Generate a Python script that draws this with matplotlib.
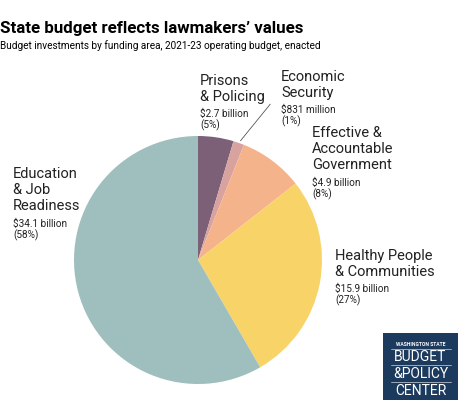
import matplotlib
matplotlib.use("Agg")
import matplotlib.pyplot as plt
import numpy as np

# data
areas = ["Prisons\n& Policing", "Economic\nSecurity", "Effective &\nAccountable\nGovernment",
         "Healthy People\n& Communities", "Education\n& Job\nReadiness"]
amounts = [2.7, 0.831, 4.9, 15.9, 34.1]  # billions
amount_labels = ["$2.7 billion", "$831 million", "$4.9 billion", "$15.9 billion", "$34.1 billion"]
pct_labels = ["(5%)", "(1%)", "(8%)", "(27%)", "(58%)"]
colores = ["#7b6078", "#d8a29f", "#f5b38b", "#f8d468", "#9ebfbe"]

plt.rcParams['font.family'] = ['Roboto', 'DejaVu Sans']

W, H = 474, 400
fig = plt.figure(figsize=(W / 100, H / 100), dpi=100)


def px(x, y):
    return x / W, 1 - y / H


# pie centrado en (198, 260), radio 124 px
cx, cy, r = 198, 260, 124
ax = fig.add_axes([(cx - r) / W, (H - cy - r) / H, 2 * r / W, 2 * r / H])
ax.pie(amounts, colors=colores, startangle=90, counterclock=False, radius=1,
       wedgeprops=dict(linewidth=0))
ax.set_xlim(-1, 1)
ax.set_ylim(-1, 1)
ax.set_aspect("equal")
ax.axis("off")

# titulo
fig.text(*px(0, 21), "State budget reflects lawmakers\u2019 values", fontsize=12.2,
         fontweight="bold", va="top", ha="left")
fig.text(*px(0, 40), "Budget investments by funding area, 2021-23 operating budget, enacted",
         fontsize=7.2, va="top", ha="left")

# etiquetas: (x, y de arriba) en pixeles
posiciones = [(200, 74), (281, 70), (312, 126), (335, 249), (13, 167)]
for i, (x, y) in enumerate(posiciones):
    n = areas[i].count("\n") + 1
    fig.text(*px(x, y), areas[i], fontsize=10.5, va="top", ha="left",
             linespacing=1.17, color="#222222")
    y2 = y + n * 17 + 1
    fig.text(*px(x, y2), amount_labels[i] + "\n" + pct_labels[i], fontsize=7.2,
             va="top", ha="left", linespacing=1.05, color="#222222")

# linea guia para Economic Security
total = sum(amounts)
ang = 90 - (amounts[0] + amounts[1] / 2) / total * 360
xa, ya = np.cos(np.radians(ang)), np.sin(np.radians(ang))
ax.annotate("", xy=(xa, ya), xytext=(272 / W, 1 - 102 / H), textcoords="figure fraction",
            arrowprops=dict(arrowstyle="-", color="#555555", lw=0.6))

# logo
logo = fig.add_axes([383 / W, 0, 75 / W, 67 / H])
logo.set_facecolor("#1c3a5e")
logo.set_xticks([])
logo.set_yticks([])
for s in logo.spines.values():
    s.set_visible(False)
logo.set_xlim(0, 1)
logo.set_ylim(0, 1)
logo.text(0.5, 0.83, "WASHINGTON STATE", color="white", fontsize=3.6, ha="center",
          va="center", fontweight="bold")
logo.text(0.5, 0.64, "BUDGET", color="white", fontsize=10, ha="center", va="center")
logo.text(0.5, 0.39, "&POLICY", color="white", fontsize=10, ha="center", va="center")
logo.text(0.5, 0.13, "CENTER", color="white", fontsize=10, ha="center", va="center")
for yy in [0.76, 0.515, 0.265]:
    logo.plot([0.1, 0.9], [yy, yy], color="white", lw=0.4)

fig.savefig("out.png", dpi=100)
